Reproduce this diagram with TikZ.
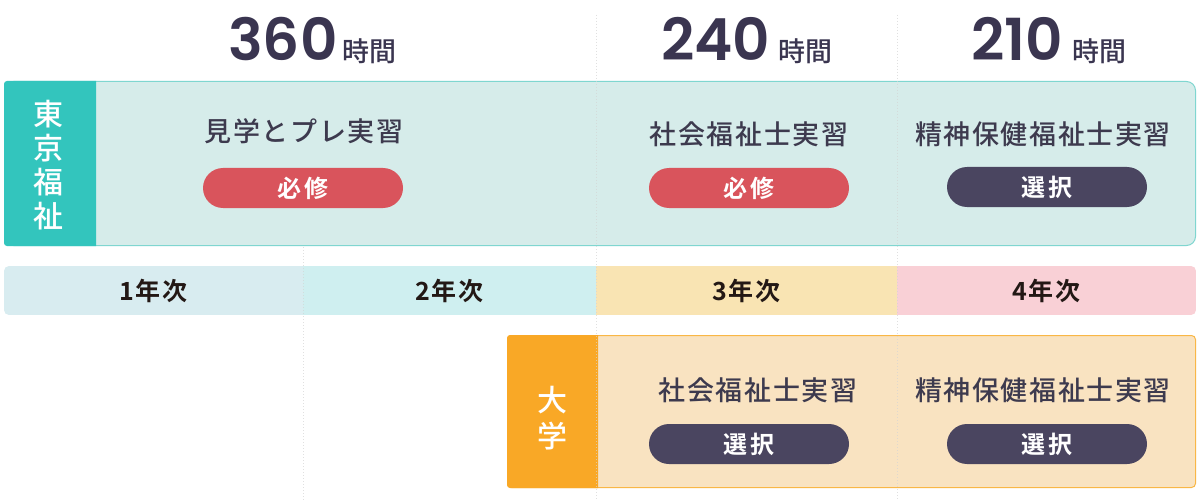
\documentclass[tikz,border=0pt]{standalone}
\usepackage{fontspec}
\newfontfamily\jpm{Noto Sans CJK JP Medium}[LetterSpace=6]
\newfontfamily\jpb{Noto Sans CJK JP Bold}[LetterSpace=5]
\newfontfamily\jpp{Noto Sans CJK JP Bold}[LetterSpace=10]
\newfontfamily\jph{Noto Sans CJK JP Medium}
\newfontfamily\num{Poppins SemiBold}
\definecolor{ink}{HTML}{3D3A4E}
\definecolor{numc}{HTML}{3A3550}
\definecolor{yeartxt}{HTML}{231815}
\definecolor{tealc}{HTML}{33C5BD}
\definecolor{tealbg}{HTML}{D6ECEA}
\definecolor{tealline}{HTML}{7FD6D0}
\definecolor{redp}{HTML}{D9545C}
\definecolor{darkp}{HTML}{4A4560}
\definecolor{yA}{HTML}{D8ECF0}
\definecolor{yB}{HTML}{CFEFF0}
\definecolor{yC}{HTML}{F9E4B3}
\definecolor{yD}{HTML}{F9D0D6}
\definecolor{orangec}{HTML}{F9A826}
\definecolor{orangebg}{HTML}{F9E3C1}
\definecolor{orangeline}{HTML}{F9B746}
\definecolor{dotc}{HTML}{D4D4D4}
\begin{document}
\begin{tikzpicture}[x=1pt,y=-1pt,
  title/.style={font=\jpm\fontsize{27}{27}\selectfont, text=ink, inner sep=0pt},
  pill/.style={rounded corners=20pt, minimum width=200pt, minimum height=40pt, text=white, inner sep=0pt, font=\jpp\fontsize{24}{24}\selectfont},
  req/.style={pill, fill=redp},
  opt/.style={pill, fill=darkp},
  yearseg/.style={minimum height=49pt, inner sep=0pt, text=yeartxt, font=\jpb\fontsize{25}{25}\selectfont},
  bignum/.style={font=\num\fontsize{58}{58}\selectfont, text=numc, inner sep=0pt, anchor=base west},
  hours/.style={font=\jph\fontsize{27}{27}\selectfont, text=numc, inner sep=0pt, anchor=base west},
  vlabel/.style={font=\jph\fontsize{30}{34}\selectfont, text=white, align=center, inner sep=0pt},
  dotline/.style={draw=dotc, line width=1pt, dash pattern=on 1pt off 2pt}
]
\useasboundingbox (0,0) rectangle (1200,500);
\fill[white] (0,0) rectangle (1200,500);

% hour headings
\node[bignum] (n360) at (228,61) {360};
\node[hours] (h360) at (342,62) {時間};
\node[bignum] (n240) at (661,61) {240};
\node[hours] (h240) at (778,62) {時間};
\node[bignum] (n210) at (971,61) {210};
\node[hours] (h210) at (1072,62) {時間};

% top box (Tokyo Fukushi)
\node[draw=tealline, fill=tealbg, line width=1pt, rounded corners=9pt, minimum width=1191pt, minimum height=164pt, inner sep=0pt] (topbox) at (600,163.5) {};
\fill[tealc] (96,81) -- (7,81) arc[start angle=90, end angle=180, radius=3pt] -- (4,243) arc[start angle=180, end angle=270, radius=3pt] -- (96,246) -- cycle;
\node[vlabel] (toplabel) at (49,165) {東\\京\\福\\祉};

\node[title] (t1) at (304,131) {見学とプレ実習};
\node[req] (p1) at (303,188) {必修};
\node[title] (t2) at (749,134) {社会福祉士実習};
\node[req] (p2) at (749,188) {必修};
\node[title] (t3) at (1043,134) {精神保健福祉士実習};
\node[opt] (p3) at (1047,187) {選択};

% year bar
\begin{scope}
\clip[rounded corners=5pt] (4,266) rectangle (1196,315);
\node[yearseg, fill=yA, minimum width=299pt] (y1) at (153.5,290.5) {1年次};
\node[yearseg, fill=yB, minimum width=293pt] (y2) at (449.5,290.5) {2年次};
\node[yearseg, fill=yC, minimum width=301pt] (y3) at (746.5,290.5) {3年次};
\node[yearseg, fill=yD, minimum width=299pt] (y4) at (1046.5,290.5) {4年次};
\end{scope}

% bottom box (university)
\node[draw=orangeline, fill=orangebg, line width=1pt, rounded corners=4pt, minimum width=688pt, minimum height=152pt, inner sep=0pt] (botbox) at (851.5,411.5) {};
\fill[orangec] (598,335) -- (510,335) arc[start angle=90, end angle=180, radius=3pt] -- (507,485) arc[start angle=180, end angle=270, radius=3pt] -- (598,488) -- cycle;
\node[vlabel, font=\jph\fontsize{30}{36}\selectfont] (botlabel) at (552,418) {大\\学};

\node[title] (t4) at (758,390) {社会福祉士実習};
\node[opt] (p4) at (749,444) {選択};
\node[title] (t5) at (1043,390) {精神保健福祉士実習};
\node[opt] (p5) at (1047,444) {選択};

% dotted guide lines
\draw[dotline, opacity=0.7] (303,247) -- (303,500);
\draw[dotline, opacity=0.7] (596,15) -- (596,500);
\draw[dotline, opacity=0.7] (897,15) -- (897,500);
\end{tikzpicture}
\end{document}
